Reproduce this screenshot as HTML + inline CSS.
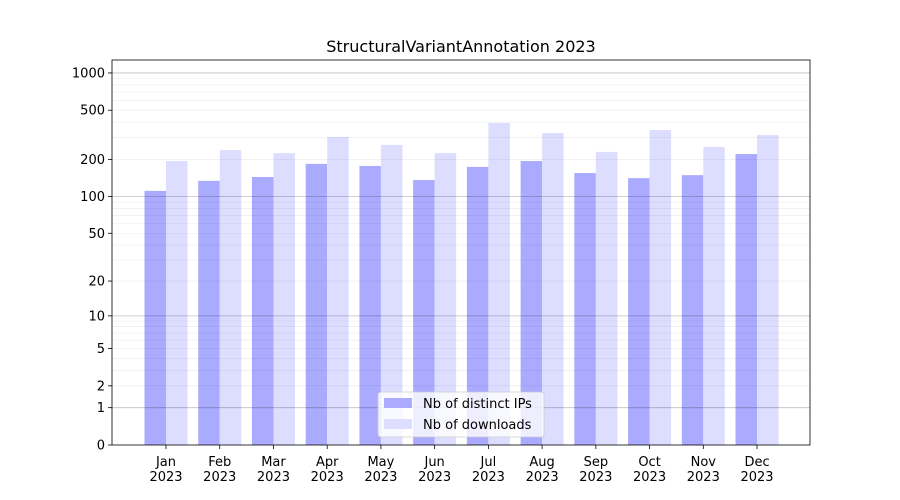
<!DOCTYPE html>
<html><head><meta charset="utf-8"><style>
html,body{margin:0;padding:0;background:#fff;}
svg{display:block;font-family:"DejaVu Sans","Liberation Sans",sans-serif;}
</style></head><body>
<svg id="c" width="900" height="500" xmlns="http://www.w3.org/2000/svg"></svg>
<script>
const s=document.getElementById('c');
const L=112,R=810,T=60,B=445;
const Y=v=>B-124*Math.log10(v+1);
let h='';
h+=`<rect x="0" y="0" width="900" height="500" fill="#fff"/>`;
h+=`<text x="461" y="52" font-size="16" text-anchor="middle">StructuralVariantAnnotation 2023</text>`;
const d=[111,134,144,184,177,136,174,194,155,141,149,221];
const l=[194,238,225,304,262,225,394,327,230,346,252,315];
const m=['Jan','Feb','Mar','Apr','May','Jun','Jul','Aug','Sep','Oct','Nov','Dec'];
const w=21.5;
for(let i=0;i<12;i++){
 const cx=166+i*53.73;
 h+=`<rect x="${cx-w}" y="${Y(d[i])}" width="${w}" height="${B-Y(d[i])}" fill="#aaaaff"/>`;
 h+=`<rect x="${cx}" y="${Y(l[i])}" width="${w}" height="${B-Y(l[i])}" fill="#ddddff"/>`;
 h+=`<line x1="${cx}" x2="${cx}" y1="${B}" y2="${B+4}" stroke="#000" stroke-width="0.8"/>`;
 h+=`<text x="${cx}" y="${B+21}" font-size="13" text-anchor="middle">${m[i]}</text>`;
 h+=`<text x="${cx}" y="${B+36}" font-size="13" text-anchor="middle">2023</text>`;
}
// grid
for(const dec of [1,10,100,1000]){
 for(let k=1;k<10;k++){
  const v=dec*k; if(v>1300)break;
  const y=Y(v); if(y<T)continue;
  const major=k==1;
  h+=`<line x1="${L}" x2="${R}" y1="${y}" y2="${y}" stroke="${major?'#000':'#000'}" stroke-opacity="${major?0.25:0.08}" stroke-width="${major?0.8:0.6}"/>`;
 }
}
const ticks=[0,1,2,5,10,20,50,100,200,500,1000];
for(const t of ticks){
 const y=Y(t);
 h+=`<line x1="${L-4}" x2="${L}" y1="${y}" y2="${y}" stroke="#000" stroke-width="0.8"/>`;
 h+=`<text x="${L-7}" y="${y+4.5}" font-size="13" text-anchor="end">${t}</text>`;
}
h+=`<rect x="${L}" y="${T}" width="${R-L}" height="${B-T}" fill="none" stroke="#000" stroke-width="0.8"/>`;
// legend
h+=`<rect x="378" y="392" width="166" height="45" rx="3" fill="#fff" fill-opacity="0.8" stroke="#ccc" stroke-width="0.8"/>`;
h+=`<rect x="384" y="398" width="28" height="10" fill="#aaaaff"/>`;
h+=`<text x="423" y="408" font-size="13">Nb of distinct IPs</text>`;
h+=`<rect x="384" y="419" width="28" height="10" fill="#ddddff"/>`;
h+=`<text x="423" y="429" font-size="13">Nb of downloads</text>`;
s.innerHTML=h;
</script>
</body></html>
